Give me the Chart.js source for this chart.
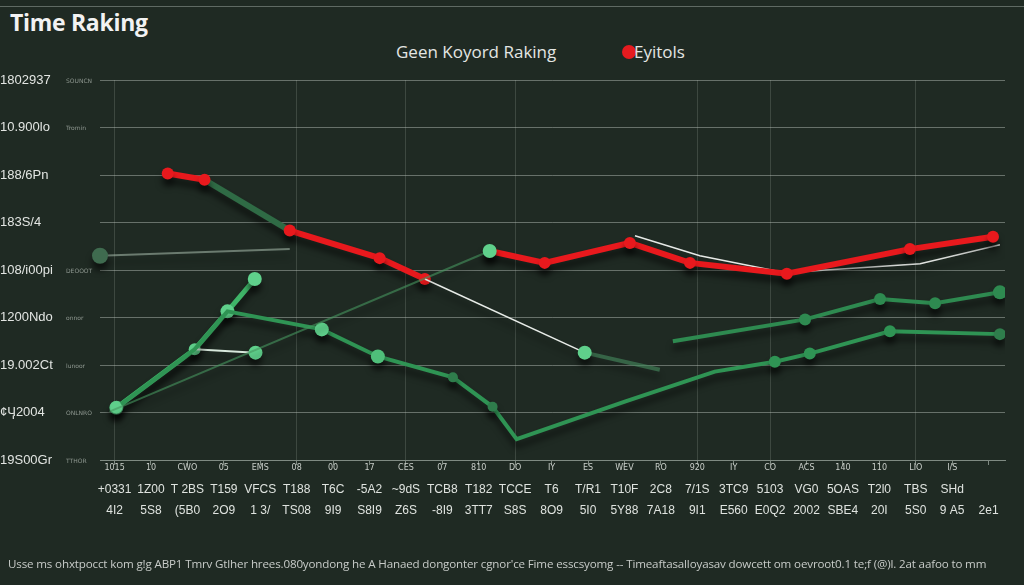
<!DOCTYPE html>
<html>
<head>
<meta charset="utf-8">
<script src="https://cdn.jsdelivr.net/npm/chart.js@4.4.0/dist/chart.umd.min.js"></script>
<style>
  body { margin: 0; background: #1f2a23; font-family: "Open Sans", "DejaVu Sans", sans-serif; }
  #wrap { position: relative; width: 1024px; height: 585px; overflow: hidden; }
  #topline { position: absolute; left: 0; top: 6px; width: 1024px; height: 1px; background: #5f6a63; }
  #title { position: absolute; left: 10px; top: 6px; color: #f2f2f2; font-size: 23px; font-weight: 700; letter-spacing: -0.3px; }
  .legend { position: absolute; top: 40px; color: #e4e6e4; font-size: 17px; }
  #dot { position: absolute; left: 622px; top: 45px; width: 14px; height: 14px; border-radius: 50%; background: #e51b1f; }
  #note { position: absolute; left: 8px; top: 556px; color: #c7cbc8; font-size: 11.6px; white-space: nowrap; letter-spacing: -0.15px; }
  canvas { position: absolute; left: 0; top: 0; }
</style>
</head>
<body>
<div id="wrap">
  <div id="topline"></div>
  <div id="title">Time Raking</div>
  <div class="legend" style="left:396px">Geen Koyord Raking</div>
  <div id="dot"></div>
  <div class="legend" style="left:634px">Eyitols</div>
  <canvas id="chart" width="1024" height="585"></canvas>
  <div id="note">Usse ms ohxtpocct kom g!g ABP1 Tmrv Gtlher hrees.080yondong he A Hanaed dongonter cgnor'ce Fime esscsyomg -- Timeaftasalloyasav dowcett om oevroot0.1 te;f (@)l. 2at aafoo to mm</div>
</div>
<script>
// tick labels
const yLabels = ["19S00Gr", "¢Ӌ2004", "19.002Ct", "1200Ndo", "108/i00pi", "183S/4", "188/6Pn", "10.900lo", "1802937"];
const ySubLabels = ["TTHOR", "ONLNRO", "lunoor", "onnor", "DEOOOT", "", "", "Tromin", "SOUNCN"];
const xLabelsTop = ["1015", "10", "CWO", "05", "EMS", "08", "00", "17", "CES", "07", "810", "DO", "IY", "ES", "WEV", "RO", "920", "IY", "CO", "ACS", "140", "110", "LIO", "I/S", ""];
const xLabelsMid = ["+0331", "1Z00", "T 2BS", "T159", "VFCS", "T188", "T6C", "-5A2", "~9dS", "TCB8", "T182", "TCCE", "T6", "T/R1", "T10F", "2C8", "7/1S", "3TC9", "5103", "VG0", "5OAS", "T2l0", "TBS", "SHd", ""];
const xLabelsBot = ["4I2", "5S8", "(5B0", "2O9", "1 3/", "TS08", "9I9", "S8I9", "Z6S", "-8I9", "3TT7", "S8S", "8O9", "5I0", "5Y88", "7A18", "9I1", "E560", "E0Q2", "2002", "SBE4", "20I", "5S0", "9 A5", "2e1"];

// series values as [x, y] (x = column, y = rank level)
const redPoints = [[1.46, 6.03], [2.47, 5.90], [4.81, 4.83], [7.28, 4.25], [8.52, 3.81], [9.5, null], [10.30, 4.40], [11.81, 4.15], [14.15, 4.57], [15.80, 4.15], [18.46, 3.92], [21.84, 4.44], [24.12, 4.70]];
const greenPoints = [[0.05, 1.10], [2.20, 2.33], [3.10, 3.13], [5.69, 2.75], [7.23, 2.18], [9.29, 1.74], [10.38, 1.12], [11.04, 0.44], [14.01, 1.23], [16.48, 1.86], [18.13, 2.07], [19.09, 2.24], [21.29, 2.71], [24.31, 2.65]];
const lightPoints = [[0.05, 1.10], [2.20, 2.33], [3.10, 3.13], [3.85, 3.81]];
const branchPoints = [[2.20, 2.33], [3.87, 2.26]];
const risePoints = [[-0.14, 1.02], [10.30, 4.40]];
const dropPoints = [[8.52, 3.81], [12.91, 2.26], [14.97, 1.90]];
const whitePoints = [[14.29, 4.72], [16.07, 4.30], [18.41, 3.94], [22.12, 4.13], [24.31, 4.53]];
const upperGreenPoints = [[15.33, 2.50], [18.96, 2.96], [21.02, 3.39], [22.53, 3.30], [24.31, 3.53]];
const grayPoints = [[-0.4, 4.30], [4.81, 4.44]];

const toXY = (arr) => arr.map((p) => ({ x: p[0], y: p[1] }));
const gridCols = [0, 5, 8, 11, 16, 18, 22];

const shadowPlugin = {
  id: "shadow",
  beforeDatasetsDraw(chart) {
    const c = chart.ctx;
    c.save();
    c.shadowColor = "rgba(0,0,0,0.55)";
    c.shadowBlur = 6;
    c.shadowOffsetY = 7;
  },
  afterDatasetsDraw(chart) {
    chart.ctx.restore();
  },
};

const labelPlugin = {
  id: "labels",
  afterDraw(chart) {
    const c = chart.ctx;
    const xs = chart.scales.x;
    const ys = chart.scales.y;
    c.save();
    c.textAlign = "center";
    c.textBaseline = "middle";
    for (let i = 0; i < xLabelsTop.length; i++) {
      const px = xs.getPixelForValue(i);
      c.fillStyle = "#c9cec9";
      c.font = "8px 'DejaVu Sans'";
      c.fillText(xLabelsTop[i], px, 468);
      c.fillStyle = "#dfe3df";
      c.font = "12px 'Liberation Sans'";
      c.fillText(xLabelsMid[i], px, 490);
      c.fillText(xLabelsBot[i], px, 511);
    }
    c.textAlign = "left";
    c.fillStyle = "#8f9891";
    c.font = "6px 'DejaVu Sans'";
    for (let i = 0; i < ySubLabels.length; i++) {
      c.fillText(ySubLabels[i], 66, ys.getPixelForValue(i) + 1);
    }
    c.restore();
  },
};

new Chart(document.getElementById("chart"), {
  type: "line",
  data: {
    datasets: [
      {
        data: toXY(grayPoints),
        borderColor: "rgba(170,190,175,0.55)",
        borderWidth: 2,
        clip: false,
        pointRadius: [8, 0],
        pointBackgroundColor: "#3f6b4f",
        pointBorderWidth: 0,
      },
      {
        data: toXY(risePoints),
        borderColor: "rgba(70,150,95,0.6)",
        borderWidth: 2,
        clip: false,
        pointRadius: [0, 7],
        pointBackgroundColor: "#5fd08b",
        pointBorderWidth: 0,
      },
      {
        data: toXY(greenPoints),
        borderColor: "#2f9454",
        borderWidth: 4,
        pointRadius: [6, 0, 0, 7, 7, 5, 5, 0, 0, 0, 6, 6, 6, 6],
        pointBackgroundColor: ["#5fd08b", "#5fd08b", "#5fd08b", "#5fd08b", "#4fbf7a", "#2f7d4c", "#2f7d4c", "#2f9454", "#2f9454", "#2f9454", "#2f9454", "#2f9454", "#2f9454", "#2f7d4c"],
        pointBorderWidth: 0,
      },
      {
        data: toXY(upperGreenPoints),
        borderColor: "#2e8a50",
        borderWidth: 4,
        pointRadius: [0, 6, 6, 6, 7],
        pointBackgroundColor: "#2e8a50",
        pointBorderWidth: 0,
      },
      {
        data: toXY(dropPoints),
        borderColor: "#e8ece8",
        borderWidth: 1.5,
        pointRadius: [0, 7, 0],
        pointBackgroundColor: "#5fd08b",
        pointBorderWidth: 0,
        segment: { borderColor: (ctx) => (ctx.p0DataIndex === 1 ? "rgba(70,140,95,0.6)" : undefined), borderWidth: (ctx) => (ctx.p0DataIndex === 1 ? 4 : undefined) },
      },
      {
        data: toXY(branchPoints),
        borderColor: "#d8e8dc",
        borderWidth: 2,
        pointRadius: [0, 7],
        pointBackgroundColor: "#5fd08b",
        pointBorderWidth: 0,
      },
      {
        data: toXY(lightPoints),
        borderColor: "#3fb468",
        borderWidth: 5,
        pointRadius: [7, 6, 7, 7],
        pointBackgroundColor: "#5fd08b",
        pointBorderWidth: 0,
      },
      {
        data: toXY(redPoints),
        borderColor: "#e8191d",
        borderWidth: 6,
        spanGaps: false,
        pointRadius: 6,
        pointBackgroundColor: "#e8191d",
        pointBorderWidth: 0,
        segment: { borderColor: (ctx) => (ctx.p0DataIndex === 1 ? "#2f6b45" : undefined) },
      },
      {
        data: toXY(whitePoints),
        borderColor: "#e6e9e6",
        borderWidth: 1.5,
        pointRadius: 0,
      },
    ],
  },
  options: {
    responsive: false,
    animation: false,
    layout: { padding: { top: 80, right: 19, bottom: 45, left: 0 } },
    plugins: { legend: { display: false }, tooltip: { enabled: false } },
    scales: {
      x: {
        type: "linear",
        min: -0.4,
        max: 24.45,
        afterBuildTicks: (scale) => {
          scale.ticks = xLabelsTop.map((_, i) => ({ value: i }));
        },
        afterFit: (scale) => {
          scale.height = 80;
        },
        ticks: { display: false },
        border: { color: "#7f8a82" },
        grid: {
          color: (ctx) => (gridCols.includes(ctx.tick && ctx.tick.value) ? "rgba(200,210,200,0.18)" : "rgba(0,0,0,0)"),
          tickColor: "#7f8a82",
          tickLength: 5,
        },
      },
      y: {
        min: 0,
        max: 8,
        afterBuildTicks: (scale) => {
          scale.ticks = yLabels.map((_, i) => ({ value: i }));
        },
        afterFit: (scale) => {
          scale.width = 100;
        },
        ticks: {
          crossAlign: "far",
          padding: 4,
          color: "#e2e5e2",
          font: { family: "Liberation Sans", size: 13 },
          callback: (v, i) => yLabels[i],
        },
        border: { display: false },
        grid: { color: "rgba(190,200,192,0.45)", drawTicks: false },
      },
    },
  },
  plugins: [shadowPlugin, labelPlugin],
});
</script>
</body>
</html>
